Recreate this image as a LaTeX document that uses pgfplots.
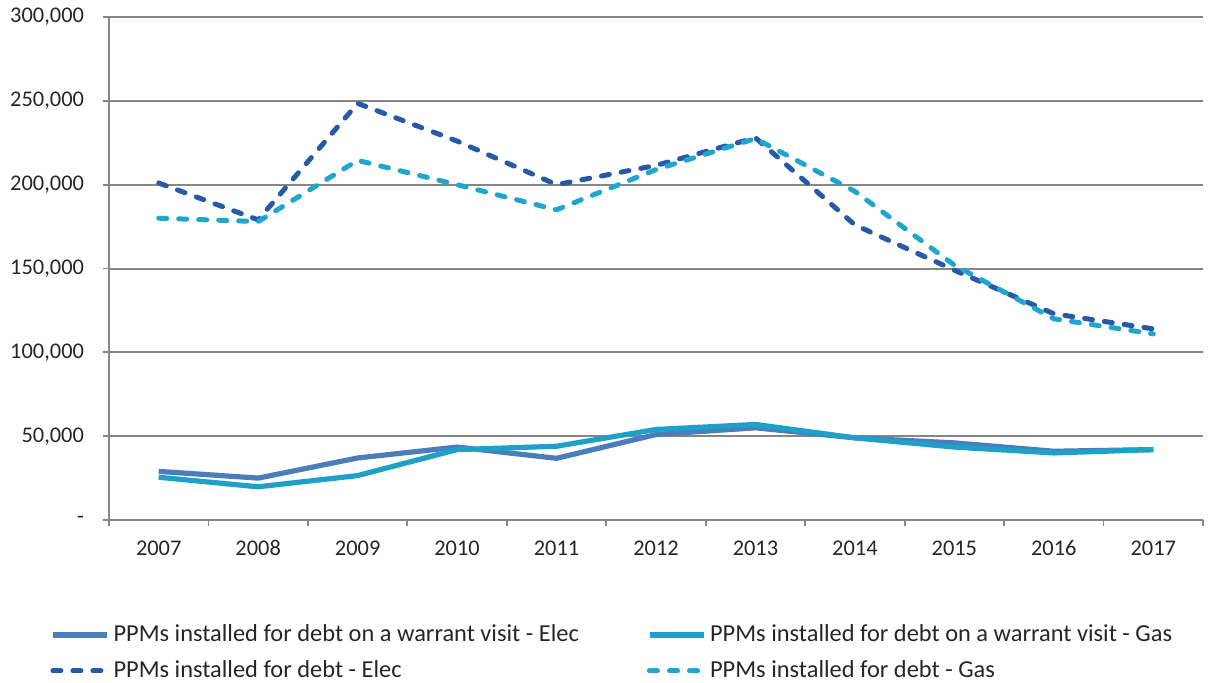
\documentclass[border=0pt]{standalone}
\usepackage{pgfplots}
\pgfplotsset{compat=1.18}
\usepackage{fontspec}
\setmainfont{Carlito}
\definecolor{selec}{RGB}{74,126,187}
\definecolor{sgas}{RGB}{31,160,200}
\definecolor{delec}{RGB}{40,88,168}
\definecolor{dgas}{RGB}{30,166,206}
\definecolor{gridgray}{RGB}{134,134,134}
\begin{document}
\begin{tikzpicture}
\useasboundingbox (-54.5pt,-81pt) rectangle (549.5pt,260pt);
\begin{axis}[
  at={(0,0)}, anchor=south west,
  width=547pt, height=251.5pt, scale only axis,
  xmin=-0.5, xmax=10.5, ymin=0, ymax=300000,
  scaled y ticks=false,
  axis x line*=bottom, axis y line*=left,
  axis line style={draw=gridgray, line width=0.9pt},
  xtick={0,...,10},
  xticklabels={2007,2008,2009,2010,2011,2012,2013,2014,2015,2016,2017},
  major x tick style={draw=none},
  minor xtick={-0.5,0.5,1.5,2.5,3.5,4.5,5.5,6.5,7.5,8.5,9.5,10.5},
  minor x tick style={draw=gridgray, line width=0.9pt},
  minor tick length=3pt,
  major tick length=3pt,
  tick align=outside,
  ytick={0,50000,100000,150000,200000,250000,300000},
  yticklabels={{-\hspace{6.5pt}},{50,000},{100,000},{150,000},{200,000},{250,000},{300,000}},
  ytick style={draw=gridgray, line width=0.9pt},
  ymajorgrids, major grid style={draw=gridgray, line width=1pt},
  tick label style={font=\fontsize{11.2pt}{13pt}\selectfont, text=black!85},
  yticklabel style={xshift=-6pt},
  xticklabel style={anchor=north, text height=8pt, text depth=0pt, yshift=-3pt},
  legend columns=2,
  legend cell align=left,
  legend style={at={(-0.054,-0.2)}, anchor=north west, draw=none, fill=none,
    font=\fontsize{12.2pt}{14pt}\selectfont, text=black!85,
    /tikz/every even column/.append style={column sep=32pt},
    row sep=4pt, inner sep=0pt},
  legend image code/.code={\draw[#1] (0pt,0pt) -- (27pt,0pt);},
]
\addplot[selec, line width=2.6pt, line join=round] coordinates {
 (0,29000) (1,25000) (2,37000) (3,43500) (4,36800) (5,51000) (6,55000) (7,49000) (8,46000) (9,41000) (10,42000)};
\addlegendentry{PPMs installed for debt on a warrant visit - Elec}
\addplot[sgas, line width=2.6pt, line join=round] coordinates {
 (0,25500) (1,19800) (2,26500) (3,42000) (4,44000) (5,54000) (6,57000) (7,49000) (8,43500) (9,40000) (10,42000)};
\addlegendentry{PPMs installed for debt on a warrant visit - Gas}
\addplot[delec, line width=2.5pt, line cap=round, line join=round, dash pattern=on 4pt off 6pt] coordinates {
 (0,201000) (1,179000) (2,248500) (3,226000) (4,200000) (5,211500) (6,228000) (7,176000) (8,149000) (9,123000) (10,114000)};
\addlegendentry{PPMs installed for debt - Elec}
\addplot[dgas, line width=2.5pt, line cap=round, line join=round, dash pattern=on 4pt off 6pt] coordinates {
 (0,180000) (1,178000) (2,214500) (3,200000) (4,185000) (5,209000) (6,227500) (7,196000) (8,152000) (9,120000) (10,111000)};
\addlegendentry{PPMs installed for debt - Gas}
\end{axis}
\end{tikzpicture}
\end{document}
